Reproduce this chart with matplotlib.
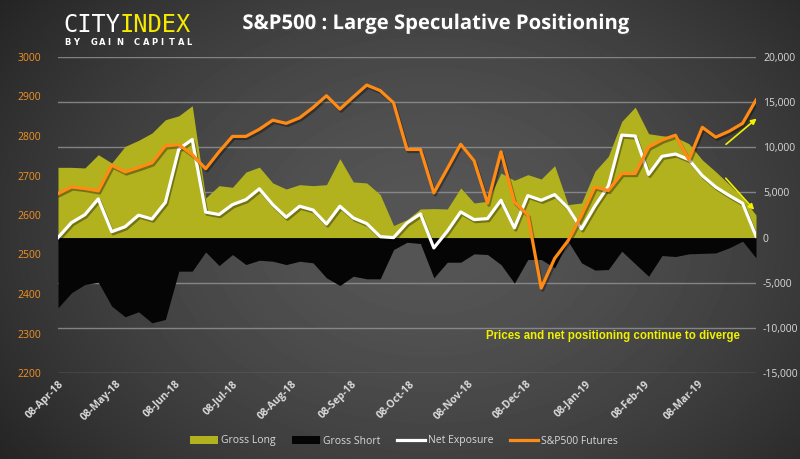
import numpy as np
import pandas as pd
import matplotlib
matplotlib.use("Agg")
from matplotlib import pyplot as plt
import matplotlib.dates as mdates
import matplotlib.patheffects as pe
from matplotlib.patches import Patch
from matplotlib.lines import Line2D
from matplotlib.ticker import FuncFormatter

# weekly positioning data (contracts) and S&P500 futures price
dates = pd.date_range("2018-04-08", periods=53, freq="7D")

gross_long = [7780, 7780, 7710, 9180, 8260, 10100, 10770, 11580, 13050, 13490,
              14600, 4390, 5750, 5570, 7260, 7800, 6050, 5380, 5860, 5750,
              5860, 8740, 6160, 6050, 4760, 1330, 1990, 3170, 3210, 3170,
              5500, 3830, 4020, 7150, 6340, 6970, 6490, 7960, 3650, 3830,
              7340, 9000, 12870, 14450, 11500, 11280, 11130, 10400, 8600, 7300,
              5900, 4400, 2500]

gross_short = [-7780, -6120, -5200, -4940, -7590, -8770, -8220, -9440, -9070, -3720,
               -3720, -1590, -3100, -1880, -2990, -2510, -2620, -2990, -2620, -2800,
               -4460, -5310, -4280, -4570, -4570, -1330, -520, -660, -4460, -2730,
               -2730, -1800, -1880, -2990, -5050, -2430, -2430, -3350, -400, -2800,
               -3600, -3540, -1510, -2900, -4280, -1990, -2100, -1800, -1750, -1700,
               -1140, -400, -2250]

net_exposure = [0, 1650, 2530, 4280, 650, 1200, 2480, 2050, 3900, 9800,
                10860, 2820, 2550, 3650, 4200, 5400, 3650, 2250, 3470, 3050,
                1500, 3470, 2170, 1550, 100, 0, 1620, 2620, -1150, 700,
                2840, 1990, 2100, 4130, 1070, 4650, 4130, 4760, 3280, 960,
                3500, 5700, 11350, 11250, 7000, 9000, 9250, 8630, 6860, 5600,
                4660, 3800, 150]

spx = [2654, 2671, 2667, 2661, 2726, 2709, 2720, 2732, 2775, 2778,
       2753, 2717, 2760, 2799, 2799, 2817, 2840, 2832, 2846, 2872,
       2902, 2868, 2899, 2929, 2915, 2884, 2766, 2766, 2656, 2717,
       2779, 2737, 2630, 2760, 2633, 2600, 2415, 2490, 2535, 2599,
       2671, 2662, 2705, 2705, 2772, 2790, 2802, 2740, 2822, 2797,
       2812, 2832, 2891]

position_ticks = list(range(-15000, 20001, 5000))
price_ticks = list(range(2200, 3001, 100))

OLIVE = "#b2b21f"
ORANGE = "#ff8a14"
LABEL = "#d9d9d9"
LEFT_LABEL = "#f39322"

fig = plt.figure(figsize=(8, 4.59), dpi=100)

# dark radial background
bg = fig.add_axes([0, 0, 1, 1])
bg.set_zorder(-10)
yy, xx = np.mgrid[0:459, 0:800]
d = np.sqrt(((xx - 430) / 520.0) ** 2 + ((yy - 230) / 380.0) ** 2)
shade = np.clip(0x56 - (0x56 - 0x26) * d ** 1.6, 0x22, 0x56) / 255.0
bg.imshow(shade, cmap="gray", vmin=0, vmax=1, aspect="auto", interpolation="bilinear")
bg.axis("off")

ax = fig.add_axes([58 / 800, 1 - 373 / 459, 698 / 800, 316 / 459])
ax.set_facecolor("none")
ax2 = ax.twinx()

# gridlines follow the right (positions) axis
ax.set_yticks(position_ticks)
ax.yaxis.grid(True, color="#959595", linewidth=1.0, alpha=0.8)
ax.set_axisbelow(True)

ax.fill_between(dates, 0, gross_long, color=OLIVE, lw=0, zorder=2)
ax.fill_between(dates, gross_short, 0, color="#050505", lw=0, zorder=2)
shadow = [pe.SimpleLineShadow(offset=(1, -1.5), alpha=0.35), pe.Normal()]
ax.plot(dates, net_exposure, color="white", lw=2.3, zorder=3, path_effects=shadow)
ax.set_ylim(-15000, 20000)
ax.yaxis.set_major_formatter(FuncFormatter(lambda v, p: f"{int(v):,}"))
ax.set_xlim(dates[0], dates[-1])

ax2.plot(dates, spx, color=ORANGE, lw=2.3, zorder=4, path_effects=shadow)
ax2.set_ylim(2200, 3000)
ax2.set_yticks(price_ticks)
ax2.set_xlim(dates[0], dates[-1])

ax.yaxis.tick_right()
ax.yaxis.set_label_position("right")
ax2.yaxis.tick_left()
ax2.yaxis.set_label_position("left")

for a in (ax, ax2):
    for s in a.spines.values():
        s.set_visible(False)
    a.tick_params(length=0)

ax.tick_params(axis="y", colors=LABEL, labelsize=7.5, pad=5)
ax2.tick_params(axis="y", colors=LEFT_LABEL, labelsize=7.5, pad=12)
for t in ax.get_yticklabels() + ax2.get_yticklabels():
    t.set_family("Open Sans")

ax.xaxis.set_major_locator(mdates.MonthLocator(bymonthday=8))
ax.xaxis.set_major_formatter(mdates.DateFormatter("%d-%b-%y"))
ax.tick_params(axis="x", colors=LABEL, pad=4)
ax2.tick_params(axis="x", labelbottom=False)
for t in ax.get_xticklabels():
    t.set_rotation(45)
    t.set_ha("right")
    t.set_va("top")
    t.set_rotation_mode("anchor")
    t.set_fontsize(7.5)
    t.set_fontweight("bold")
    t.set_family("Open Sans")

# arrows and comment
arrow = dict(arrowstyle="-|>", color="#f2f200", lw=1.2, mutation_scale=8)
ax2.annotate("", xy=(1.004, 0.811), xytext=(0.954, 0.718), xycoords="axes fraction",
             arrowprops=arrow, annotation_clip=False, zorder=6)
ax2.annotate("", xy=(1.0, 0.510), xytext=(0.954, 0.623), xycoords="axes fraction",
             arrowprops=arrow, annotation_clip=False, zorder=6)
ax2.text(0.795, 0.117, "Prices and net positioning continue to diverge", transform=ax2.transAxes,
         ha="center", va="center", color="#f0f000", fontsize=8.3, fontweight="bold",
         family="Liberation Sans", zorder=6)

# title and logo
fig.text(436 / 800, 1 - 24 / 459, "S&P500 : Large Speculative Positioning", ha="center", va="center",
         color="white", fontsize=14.6, fontweight="bold", family="Open Sans",
         path_effects=[pe.SimplePatchShadow(offset=(1.2, -1.2), alpha=0.6), pe.Normal()])
fig.text(63 / 800, 1 - 32 / 459, "CITY", ha="left", va="baseline", color="white",
         fontsize=17, family="DejaVu Sans Mono")
fig.text(120 / 800, 1 - 32 / 459, "INDEX", ha="left", va="baseline", color="#f5ea00",
         fontsize=17, family="DejaVu Sans Mono")
for k, ch in enumerate("BY GAIN CAPITAL"):
    fig.text((64 + k * 8.75) / 800, 1 - 45 / 459, ch, ha="left", va="baseline", color="white",
             fontsize=6, fontweight="bold", family="DejaVu Sans")

handles = [Patch(facecolor=OLIVE, edgecolor="none"),
           Patch(facecolor="#050505", edgecolor="none"),
           Line2D([], [], color="white", lw=2.3),
           Line2D([], [], color=ORANGE, lw=2.3)]
leg = fig.legend(handles, ["Gross Long", "Gross Short", "Net Exposure", "S&P500 Futures"],
                 loc="center", bbox_to_anchor=(404 / 800, 1 - 441 / 459), ncol=4, frameon=False,
                 handlelength=2.7, handleheight=0.7, handletextpad=0.3, columnspacing=1.55,
                 prop={"family": "Open Sans", "size": 7.5})
for t in leg.get_texts():
    t.set_color(LABEL)

fig.savefig("out.png", dpi=100)
